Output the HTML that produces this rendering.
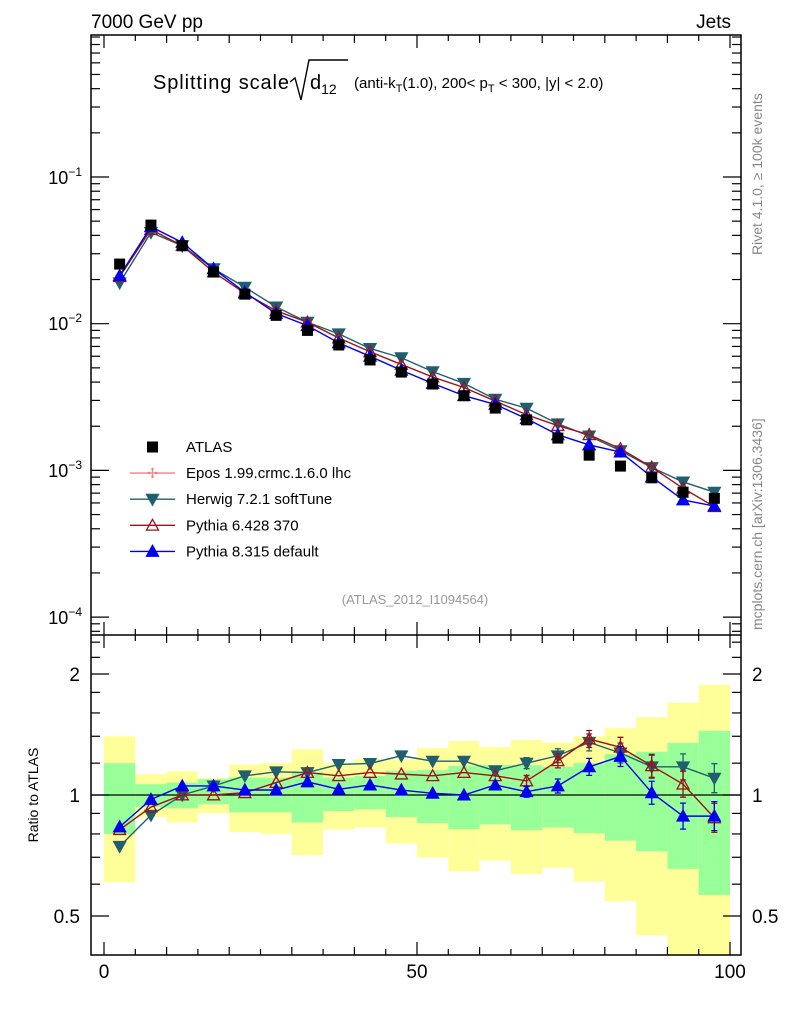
<!DOCTYPE html>
<html><head><meta charset="utf-8"><style>
body{margin:0;background:#fff}
svg{display:block;font-family:"Liberation Sans",sans-serif}
</style></head><body>
<svg id="c" width="786" height="1024" viewBox="0 0 786 1024">
<g id="bands"></g><g id="marks"></g><g id="axes"></g>
<text x="91" y="28" font-size="19">7000 GeV pp</text>
<text x="731" y="28" font-size="19" text-anchor="end">Jets</text>
<text x="153" y="89" font-size="20" textLength="136">Splitting scale</text>
<path d="M290 82 L295 78 L301 100 L309 60 L348 60" stroke="#000" stroke-width="1.4" fill="none"/>
<text x="310" y="89" font-size="20">d<tspan font-size="14" dy="5">12</tspan></text>
<text x="354" y="88" font-size="15">(anti-k<tspan font-size="11" dy="4">T</tspan><tspan dy="-4">(1.0), 200&lt; p</tspan><tspan font-size="11" dy="4">T</tspan><tspan dy="-4"> &lt; 300, |y| &lt; 2.0)</tspan></text>
<text x="415" y="604" font-size="13" fill="#999" text-anchor="middle">(ATLAS_2012_I1094564)</text>
<text transform="translate(762,255) rotate(-90)" font-size="14" fill="#888">Rivet 4.1.0, ≥ 100k events</text>
<text transform="translate(762,630) rotate(-90)" font-size="14" fill="#888">mcplots.cern.ch [arXiv:1306.3436]</text>
<text transform="translate(38,795) rotate(-90)" font-size="14" text-anchor="middle">Ratio to ATLAS</text>
<g id="legend"></g>
</svg>
<script>
const binCenters=[2.5,7.5,12.5,17.5,22.5,27.5,32.5,37.5,42.5,47.5,52.5,57.5,62.5,67.5,72.5,77.5,82.5,87.5,92.5,97.5];
const atlasValues=[0.0255,0.047,0.034,0.0225,0.0159,0.0114,0.0090,0.00716,0.00566,0.00468,0.00388,0.00323,0.00266,0.00221,0.00166,0.00127,0.00107,0.00089,0.00071,0.000645];
const herwigRatio=[0.745,0.891,1.0,1.053,1.116,1.142,1.137,1.191,1.198,1.252,1.214,1.214,1.149,1.20,1.252,1.352,1.272,1.175,1.175,1.101];
const pythia6Ratio=[0.82,0.933,1.0,1.0,1.013,1.074,1.137,1.116,1.137,1.127,1.116,1.137,1.116,1.084,1.216,1.378,1.314,1.182,1.064,0.877];
const pythia8Ratio=[0.833,0.975,1.053,1.053,1.029,1.029,1.078,1.033,1.059,1.029,1.01,1.0,1.059,1.019,1.053,1.175,1.247,1.013,0.886,0.886];
const yellowUp=[1.40,1.127,1.146,1.101,1.191,1.20,1.299,1.20,1.228,1.228,1.309,1.362,1.317,1.371,1.35,1.40,1.466,1.562,1.697,1.882];
const yellowLo=[0.607,0.881,0.854,0.901,0.809,0.80,0.708,0.82,0.83,0.758,0.699,0.645,0.687,0.636,0.659,0.609,0.544,0.447,0.3,0.3];
const greenUp=[1.20,1.064,1.074,1.094,1.105,1.105,1.142,1.105,1.116,1.149,1.153,1.182,1.187,1.187,1.175,1.20,1.264,1.281,1.347,1.444];
const greenLo=[0.80,0.933,0.926,0.948,0.905,0.905,0.854,0.912,0.921,0.881,0.851,0.822,0.845,0.817,0.83,0.803,0.77,0.724,0.655,0.564];
const xTicks=[0,50,100];
const NS="http://www.w3.org/2000/svg";
const X=v=>104+v*6.26, YM=v=>177-146.7*(Math.log10(v)+1), YR=r=>795-121*Math.log2(r);
const clamp=(y,a,b)=>Math.max(a,Math.min(b,y));
function mk(p,t,at){const e=document.createElementNS(NS,t);for(const k in at)e.setAttribute(k,at[k]);document.getElementById(p).appendChild(e);return e;}
binCenters.forEach((c,i)=>{
 const x0=X(c-2.5),w=X(c+2.5)-x0;
 let y1=clamp(YR(yellowUp[i]),635,955),y2=clamp(YR(yellowLo[i]),635,955);
 let e=mk('bands','rect',{x:x0,y:y1,width:w,height:y2-y1,fill:'#ffff99'});
 
 
 y1=clamp(YR(greenUp[i]),635,955);y2=clamp(YR(greenLo[i]),635,955);
 e=mk('bands','rect',{x:x0,y:y1,width:w,height:y2-y1,fill:'#99ff99'});
 
 
});
mk('bands','line',{x1:91,x2:741,y1:YR(1),y2:YR(1),stroke:'#000','stroke-width':1.3});
function tri(x,y,down,s){const d=down?-1:1;return `M${x-s} ${y+d*s*0.8} L${x+s} ${y+d*s*0.8} L${x} ${y-d*s}Z`;}
const series=[
 {name:'herwig',r:herwigRatio,col:'#1f5f6f',down:true,fill:'#1f5f6f'},
 {name:'pythia6',r:pythia6Ratio,col:'#a0101a',down:false,fill:'none'},
 {name:'pythia8',r:pythia8Ratio,col:'#0000ee',down:false,fill:'#0000ee'}];
series.forEach(s=>{
 const pm=binCenters.map((c,i)=>[X(c),YM(atlasValues[i]*s.r[i])]);
 const pr=binCenters.map((c,i)=>[X(c),YR(s.r[i])]);
 let e=mk('marks','polyline',{points:pm.join(' '),fill:'none',stroke:s.col,'stroke-width':1.4});
 
 
 e=mk('marks','polyline',{points:pr.join(' '),fill:'none',stroke:s.col,'stroke-width':1.4});
 
 
 pr.forEach((p,i)=>{if(i<13)return;const h=4+(i-12)*1.5;
  const b=mk('marks','path',{d:`M${p[0]} ${p[1]-h}V${p[1]+h}M${p[0]-3} ${p[1]-h}h6M${p[0]-3} ${p[1]+h}h6`,stroke:s.col,'stroke-width':1.3,fill:'none'});
  
  });
 pm.concat(pr).forEach(p=>{
  const m=mk('marks','path',{d:tri(p[0],p[1],s.down,6),fill:s.fill,stroke:s.col,'stroke-width':1.3});
  
  
 });
});
binCenters.forEach((c,i)=>{
 const m=mk('marks','rect',{x:X(c)-5.5,y:YM(atlasValues[i])-5.5,width:11,height:11,fill:'#000'});
 
 
});
mk('axes','rect',{x:91,y:35,width:650,height:920,fill:'none',stroke:'#000','stroke-width':1.5});
mk('axes','line',{x1:91,x2:741,y1:635,y2:635,stroke:'#000','stroke-width':1.5});
function ln(x1,y1,x2,y2){mk('axes','line',{x1,y1,x2,y2,stroke:'#000','stroke-width':1.2});}
for(let v=0;v<=100;v+=5){const L=xTicks.includes(v)?13:(v%10==0?8:6);const x=X(v);
 ln(x,955,x,955-L);ln(x,635,x,635-L);ln(x,635,x,635+L);ln(x,35,x,35+L);}
xTicks.forEach(v=>{const t=mk('axes','text',{x:X(v),y:978,'font-size':19,'text-anchor':'middle'});t.textContent=v;
 
 });
for(let d=-5;d<=-1;d++)for(let k=1;k<10;k++){const y=YM(k*Math.pow(10,d));if(y<35||y>635)continue;const L=k==1?18:9;ln(91,y,91+L,y);ln(741,y,741-L,y);}
[[-1,177],[-2,323],[-3,470],[-4,617]].forEach(([d,y])=>{const t=mk('axes','text',{x:82,y:y+7,'font-size':18,'text-anchor':'end'});
 t.innerHTML='10<tspan font-size="12" dy="-8">\u2212'+(-d)+'</tspan>';
 
 });
[0.4,0.5,0.6,0.7,0.8,0.9,1,1.2,1.4,1.6,1.8,2,2.2,2.4].forEach(r=>{const y=YR(r);if(y<636||y>954)return;const L=[0.5,1,2].includes(r)?18:9;ln(91,y,91+L,y);ln(741,y,741-L,y);});
[[2,'2'],[1,'1'],[0.5,'0.5']].forEach(([r,s])=>{[80,752].forEach((x,j)=>{const t=mk('axes','text',{x,y:YR(r)+7,'font-size':19,'text-anchor':j?'start':'end'});t.textContent=s;
 
 });});
const lg=[['ATLAS','sq'],['Epos 1.99.crmc.1.6.0 lhc','epos'],['Herwig 7.2.1 softTune',0],['Pythia 6.428 370',1],['Pythia 8.315 default',2]];
lg.forEach((l,i)=>{const y=447+i*26.1;
 if(l[1]==='sq'){mk('legend','rect',{x:147,y:y-5.5,width:11,height:11,fill:'#000'});}
 else if(l[1]==='epos'){mk('legend','line',{x1:130,x2:175,y1:y,y2:y,stroke:'#f08080','stroke-width':1.4});mk('legend','text',{x:152.5,y:y+5,'font-size':14,fill:'#f08080','text-anchor':'middle'}).textContent='✢';}
 else{const s=series[l[1]];mk('legend','line',{x1:130,x2:175,y1:y,y2:y,stroke:s.col,'stroke-width':1.4});mk('legend','path',{d:tri(152.5,y,s.down,6),fill:s.fill,stroke:s.col,'stroke-width':1.3});}
 const t=mk('legend','text',{x:186,y:y+5,'font-size':15});t.textContent=l[0];
 
 
});
</script>
</body></html>
